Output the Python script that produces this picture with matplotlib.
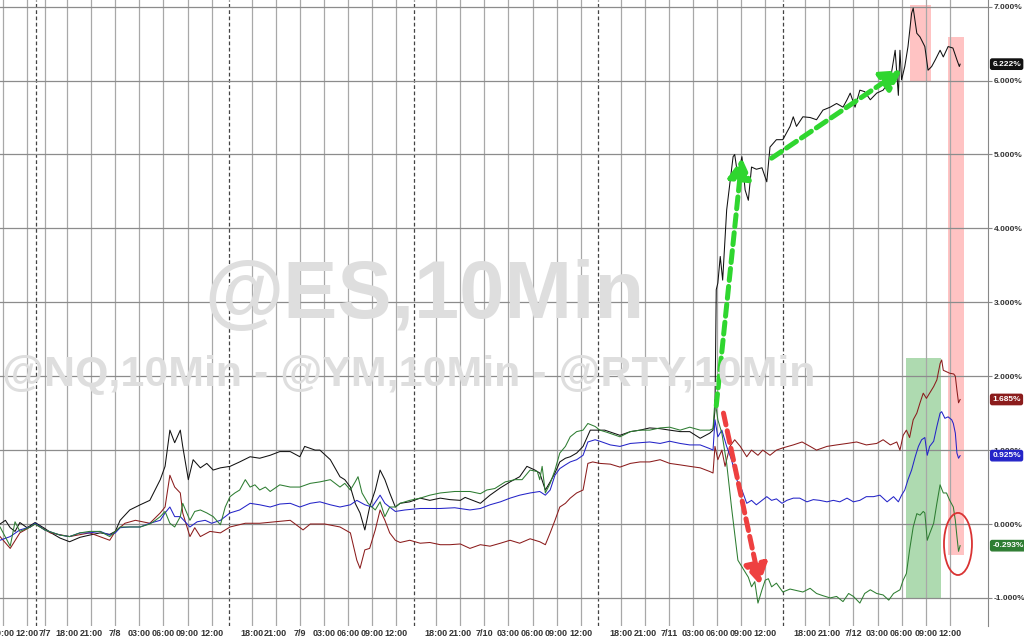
import matplotlib
matplotlib.use("Agg")
import matplotlib.pyplot as plt
from matplotlib.patches import Ellipse
from matplotlib.transforms import blended_transform_factory

plt.rcParams['font.family'] = ['Liberation Sans', 'DejaVu Sans']

# x = trading hours since the first 09:00 tick (session break 17:00-18:00 removed)
tick_pos = [0, 3, 5.23, 8, 11, 14, 17, 20, 23, 26, 31, 34, 37, 40, 43, 46, 49,
            54, 57, 60, 63, 66, 69, 72, 77, 80, 83, 86, 89, 92, 95,
            100, 103, 106, 109, 112, 115, 118]
tick_lbl = ['09:00', '12:00', '7/7', '18:00', '21:00', '7/8', '03:00', '06:00', '09:00', '12:00',
            '18:00', '21:00', '7/9', '03:00', '06:00', '09:00', '12:00',
            '18:00', '21:00', '7/10', '03:00', '06:00', '09:00', '12:00',
            '18:00', '21:00', '7/11', '03:00', '06:00', '09:00', '12:00',
            '18:00', '21:00', '7/12', '03:00', '06:00', '09:00', '12:00']
session_breaks = [4.1, 28.2, 51.2, 74.2, 97.2]

# black line (% change)
black_t = [-0.37, 0.3, 0.9, 1.5, 2.1, 3.0, 4.0, 5.2, 6.0, 7.1, 8.3, 9.6, 10.8, 12.1, 13.3, 14.0,
           14.6, 15.8, 17.1, 18.3, 19.6, 20.2, 20.8, 21.4, 22.1, 22.4, 23.1, 23.7, 24.6, 25.4,
           26.2, 27.1, 28.3, 29.5, 30.8, 32.0, 33.3, 34.5, 35.8, 37.0, 37.6, 38.9, 39.5, 40.8,
           42.0, 42.6, 43.3, 43.9, 44.5, 45.1, 45.7, 46.4, 47.0, 47.6, 48.2, 48.9, 49.5, 50.7,
           52.0, 53.2, 54.5, 55.7, 57.0, 57.6, 59.5, 60.7, 62.0, 63.2, 64.4, 65.3, 66.3, 66.9,
           67.6, 68.2, 68.8, 69.4, 70.1, 70.7, 71.5, 72.3, 73.2, 74.0, 75.0, 76.9, 78.2, 79.4,
           80.6, 81.9, 83.1, 84.4, 85.6, 86.9, 88.1, 88.5, 88.74, 88.9, 89.1, 89.4, 89.7, 90.2,
           90.6, 91.0, 91.2, 91.6, 92.1, 92.5, 92.9, 93.3, 93.9, 94.6, 95.2, 95.6, 96.4, 97.2,
           98.1, 98.5, 98.9, 99.7, 100.6, 101.4, 102.2, 103.1, 103.9, 104.7, 105.2, 105.6, 106.2,
           106.8, 107.4, 108.1, 108.9, 109.7, 110.6, 111.2, 111.4, 111.6, 111.8, 112.0, 112.4,
           112.8, 113.25, 113.45, 113.9, 114.3, 114.9, 115.3, 115.75, 116.2, 116.8, 117.2, 117.8,
           118.4, 118.9, 119.2, 119.3]
black_v = [0.0, 0.05, -0.05, -0.1, 0.02, -0.05, 0.02, -0.06, -0.12, -0.19, -0.24, -0.18, -0.15,
           -0.12, -0.14, -0.1, 0.05, 0.19, 0.26, 0.32, 0.6, 0.78, 1.27, 1.1, 1.27, 1.05, 0.6, 0.87,
           0.76, 0.82, 0.73, 0.76, 0.78, 0.84, 0.91, 0.89, 0.93, 0.98, 0.98, 0.91, 1.05, 1.0, 1.0,
           0.87, 0.64, 0.6, 0.5, 0.28, 0.15, -0.08, 0.23, 0.46, 0.73, 0.6, 0.42, 0.23, 0.28, 0.3,
           0.35, 0.32, 0.35, 0.33, 0.32, 0.36, 0.28, 0.39, 0.49, 0.57, 0.64, 0.78, 0.73, 0.69,
           0.46, 0.57, 0.69, 0.84, 0.89, 0.91, 0.96, 1.05, 1.27, 1.27, 1.27, 1.2, 1.25, 1.27,
           1.3, 1.29, 1.27, 1.25, 1.25, 1.16, 1.23, 1.27, 1.54, 3.17, 3.26, 3.62, 3.3, 4.25,
           4.61, 4.97, 5.0, 4.7, 4.97, 4.52, 4.38, 4.83, 4.8, 4.82, 4.63, 5.1, 5.2, 5.2,
           5.38, 5.51, 5.38, 5.51, 5.5, 5.47, 5.6, 5.64, 5.69, 5.64, 5.74, 5.83, 5.64,
           5.87, 5.85, 5.74, 5.83, 5.87, 6.01, 6.41, 6.1, 5.8, 6.41, 6.01, 6.19,
           6.46, 6.91, 6.98, 6.64, 6.59, 6.46, 6.14, 6.19, 6.28, 6.41, 6.32, 6.46,
           6.44, 6.28, 6.19, 6.222]

# dark red line
red_t = [-0.37, 0.9, 2.1, 3.4, 4.0, 5.9, 8.3, 10.8, 13.3, 14.0, 15.2, 16.5, 18.3, 19.6, 20.2,
         20.8, 21.4, 22.1, 22.4, 23.3, 23.9, 24.6, 25.8, 27.1, 28.3, 30.2, 32.0, 33.9, 35.8,
         37.4, 38.3, 40.1, 42.0, 43.3, 44.1, 44.5, 45.1, 45.7, 46.4, 47.0, 47.6, 48.2, 48.9,
         49.5, 50.7, 52.0, 53.2, 54.5, 55.7, 57.0, 58.2, 59.5, 60.7, 62.0, 63.2, 64.4, 65.7,
         66.9, 67.6, 68.2, 68.8, 69.4, 70.1, 70.7, 71.5, 72.3, 72.9, 73.5, 74.4, 75.7, 76.9,
         78.2, 79.4, 80.6, 81.9, 83.1, 84.4, 85.6, 86.9, 88.1, 88.5, 88.74, 89.1, 89.6, 90.0,
         90.6, 91.2, 91.9, 92.7, 93.3, 94.1, 94.7, 95.6, 96.4, 97.2, 98.5, 99.6, 100.6, 101.4,
         102.7, 103.9, 105.2, 106.4, 107.6, 108.9, 109.7, 110.6, 111.4, 111.8, 112.2, 112.6,
         113.0, 113.45, 113.9, 114.3, 114.7, 115.1, 115.5, 116.0, 116.4, 116.8, 117.0, 117.2,
         117.6, 118.0, 118.5, 118.7, 118.9, 119.1, 119.3]
red_v = [-0.17, -0.33, -0.12, -0.04, 0.0, -0.12, -0.17, -0.12, -0.22, -0.1, 0.01, 0.05, 0.01,
         0.15, 0.23, 0.66, 0.5, 0.42, 0.15, -0.17, -0.05, -0.17, -0.1, -0.12, -0.04, 0.01, 0.01,
         0.03, 0.05, -0.08, 0.0, 0.0, -0.04, -0.12, -0.49, -0.6, -0.35, -0.33, -0.08, 0.19, 0.05,
         -0.12, -0.22, -0.25, -0.22, -0.26, -0.25, -0.28, -0.28, -0.27, -0.33, -0.28, -0.3,
         -0.26, -0.22, -0.26, -0.2, -0.24, -0.28, -0.12, 0.05, 0.23, 0.28, 0.35, 0.42, 0.46,
         0.82, 0.84, 0.82, 0.81, 0.77, 0.82, 0.84, 0.84, 0.87, 0.82, 0.8, 0.78, 0.76, 0.71,
         0.69, 1.05, 0.87, 1.0, 0.78, 1.05, 1.14, 1.05, 0.91, 1.0, 0.93, 1.0, 0.93, 1.0, 1.03,
         1.07, 1.11, 1.05, 1.0, 1.05, 1.07, 1.09, 1.11, 1.07, 1.09, 1.14, 1.07, 1.11, 1.0, 1.2,
         1.27, 1.17, 1.41, 1.5, 1.64, 1.77, 1.7, 1.77, 1.86, 1.95, 2.17, 2.22, 2.08, 2.06, 2.04,
         2.03, 2.0, 1.81, 1.64, 1.685]

# blue line
blue_t = [-0.37, 0.9, 2.1, 3.4, 4.0, 5.2, 7.1, 8.3, 9.6, 10.8, 12.1, 13.3, 14.0, 14.6, 15.8,
          17.1, 18.3, 19.6, 20.2, 20.8, 21.4, 22.1, 23.3, 24.2, 25.2, 26.0, 27.1, 28.3, 29.5,
          30.8, 32.0, 33.3, 34.5, 35.8, 37.0, 38.3, 39.5, 40.8, 42.0, 43.3, 44.1, 45.1, 46.0,
          47.0, 47.6, 48.2, 48.9, 50.1, 52.0, 54.5, 56.3, 58.2, 59.5, 60.7, 62.0, 63.2, 64.4,
          65.7, 66.9, 67.6, 68.2, 68.8, 69.4, 70.1, 70.7, 71.5, 72.3, 72.9, 73.8, 74.4, 75.7,
          76.9, 78.2, 79.4, 80.6, 81.9, 83.1, 84.4, 85.6, 86.9, 88.1, 88.5, 88.74, 89.1, 89.6,
          90.2, 90.8, 91.45, 92.1, 92.7, 93.3, 93.9, 94.6, 95.2, 95.8, 96.4, 97.1, 97.7, 98.5,
          99.3, 100.2, 101.0, 101.8, 102.7, 103.5, 104.3, 105.2, 106.0, 106.8, 107.6, 108.5,
          109.3, 110.2, 111.0, 111.6, 112.0, 112.4, 112.8, 113.25, 113.7, 114.1, 114.5, 114.9,
          115.2, 115.5, 116.0, 116.4, 116.8, 117.0, 117.4, 117.8, 118.25, 118.45, 118.7, 118.9,
          119.1, 119.3]
blue_v = [-0.22, -0.17, -0.08, -0.04, 0.01, -0.08, -0.15, -0.17, -0.12, -0.12, -0.1, -0.15,
          -0.12, -0.05, -0.04, -0.04, 0.01, 0.05, 0.15, 0.23, 0.1, 0.1, -0.04, 0.03, 0.05, 0.01,
          0.05, 0.15, 0.19, 0.28, 0.26, 0.23, 0.27, 0.28, 0.23, 0.28, 0.3, 0.26, 0.23, 0.26,
          0.32, 0.26, 0.23, 0.39, 0.28, 0.23, 0.17, 0.19, 0.21, 0.21, 0.22, 0.19, 0.21, 0.26,
          0.3, 0.35, 0.39, 0.42, 0.44, 0.39, 0.46, 0.66, 0.75, 0.8, 0.84, 0.87, 0.93, 1.11,
          1.14, 1.12, 1.07, 1.05, 1.09, 1.1, 1.11, 1.09, 1.12, 1.09, 1.07, 1.07, 1.02, 1.0,
          1.41, 1.18, 1.27, 1.05, 0.87, 0.6, 0.46, 0.28, 0.32, 0.26, 0.32, 0.37, 0.32, 0.34,
          0.28, 0.32, 0.35, 0.35, 0.3, 0.33, 0.32, 0.3, 0.32, 0.3, 0.35, 0.3, 0.32, 0.37, 0.37,
          0.39, 0.3, 0.37, 0.3, 0.39, 0.46, 0.6, 0.73, 0.91, 1.05, 1.14, 1.17, 0.93, 1.05,
          1.12, 1.32, 1.5, 1.52, 1.43, 1.45, 1.41, 1.36, 1.23, 0.96, 0.89, 0.925]

# green line
green_t = [-0.37, 0.9, 1.5, 2.1, 3.4, 4.0, 5.2, 7.1, 8.3, 9.6, 10.8, 12.1, 13.3, 14.0, 14.6,
           15.8, 17.1, 18.3, 19.0, 19.6, 20.2, 20.8, 21.4, 22.1, 22.4, 23.3, 23.9, 24.6, 25.4,
           26.2, 27.1, 27.7, 28.3, 28.9, 29.5, 30.2, 30.8, 31.4, 32.0, 32.7, 33.3, 34.5, 35.8,
           37.0, 38.3, 39.5, 40.8, 42.0, 42.6, 43.3, 43.9, 44.25, 44.75, 45.5, 46.4, 47.0, 47.6,
           48.2, 48.9, 49.5, 50.7, 52.0, 53.2, 54.5, 56.3, 58.2, 59.5, 60.3, 61.3, 62.6, 63.8,
           64.7, 65.7, 66.6, 66.9, 67.2, 67.6, 68.2, 68.8, 69.4, 70.1, 70.7, 71.5, 72.3, 72.9,
           73.8, 74.4, 75.3, 76.9, 78.2, 79.4, 80.6, 81.9, 83.1, 84.4, 85.6, 86.9, 88.1, 88.5,
           88.74, 89.1, 89.6, 90.2, 90.8, 91.2, 91.6, 92.1, 92.5, 92.9, 93.3, 93.7, 94.1, 94.6,
           95.0, 95.4, 95.8, 96.4, 97.2, 98.1, 98.9, 99.7, 100.6, 101.4, 102.2, 103.1, 103.9,
           104.7, 105.4, 106.0, 106.8, 107.4, 108.1, 108.9, 109.7, 110.4, 111.0, 111.8, 112.2,
           112.6, 113.0, 113.45, 113.9, 114.3, 114.7, 114.9, 115.2, 115.5, 116.0, 116.4, 116.8,
           117.2, 117.6, 118.0, 118.45, 118.7, 118.9, 119.1, 119.3]
green_v = [-0.04, -0.3, 0.03, -0.1, -0.04, 0.0, -0.08, -0.15, -0.17, -0.12, -0.1, -0.1, -0.17,
           -0.1, -0.04, -0.04, -0.04, 0.0, 0.05, 0.1, 0.17, 0.01, -0.04, 0.1, 0.28, 0.05, 0.17,
           0.19, 0.15, 0.1, -0.01, 0.23, 0.37, 0.42, 0.46, 0.6, 0.5, 0.53, 0.46, 0.5, 0.44, 0.53,
           0.5, 0.5, 0.55, 0.57, 0.6, 0.5, 0.55, 0.46, 0.57, 0.64, 0.42, 0.28, 0.19, 0.3, 0.1,
           0.23, 0.23, 0.28, 0.32, 0.35, 0.39, 0.42, 0.44, 0.44, 0.41, 0.46, 0.48, 0.57, 0.6,
           0.6, 0.73, 0.71, 0.6, 0.78, 0.42, 0.55, 0.73, 0.96, 1.05, 1.18, 1.25, 1.27, 1.36,
           1.32, 1.27, 1.24, 1.18, 1.25, 1.27, 1.27, 1.3, 1.31, 1.27, 1.31, 1.27, 1.27, 1.29,
           1.68, 1.41, 1.23, 0.82, 0.23, -0.13, -0.49, -0.58, -0.65, -0.72, -0.85, -0.78, -1.07,
           -0.89, -0.76, -0.74, -0.85, -0.8, -0.92, -0.88, -0.9, -0.92, -0.87, -0.94, -0.97,
           -1.0, -0.98, -1.05, -0.94, -0.98, -1.07, -0.94, -0.89, -0.94, -0.96, -1.03, -0.94,
           -0.89, -0.76, -0.67, -0.35, -0.04, 0.14, 0.12, 0.17, 0.15, -0.22, -0.13, 0.01, 0.28,
           0.53, 0.42, 0.42, 0.32, 0.23, 0.05, -0.17, -0.37, -0.293]

last_vals = [6.222, 1.685, 0.925, -0.293]
tag_colors = ['#111111', '#8b1c1c', '#2424c8', '#2e7d32']

fig = plt.figure(figsize=(10.24, 6.41), dpi=100)
ax = fig.add_axes([0, 15 / 641, 988.3 / 1024, 626 / 641])

# watermarks
fig.text(204 / 1024, 1 - 318 / 641, '@ES,10Min', fontsize=58.5, fontweight='bold',
         color='#dedede', ha='left', va='baseline', zorder=0)
fig.text(2 / 1024, 1 - 386 / 641, '@NQ,10Min - @YM,10Min - @RTY,10Min', fontsize=31,
         fontweight='bold', color='#dedede', ha='left', va='baseline', zorder=0)
ax.patch.set_alpha(0)

# highlight spans
ax.fill_between([112.55, 116.9], -1.0, 2.25, color='#4caf50', alpha=0.45, lw=0, zorder=1)
ax.fill_between([113.05, 115.7], 6.0, 7.02, color='#ff6b6b', alpha=0.4, lw=0, zorder=1)
ax.fill_between([117.83, 119.8], -0.42, 6.59, color='#ff6b6b', alpha=0.4, lw=0, zorder=1)

ax.plot(black_t, black_v, color='#111111', lw=0.75, zorder=3)
ax.plot(red_t, red_v, color='#8b1c1c', lw=0.75, zorder=3)
ax.plot(blue_t, blue_v, color='#2424c8', lw=0.75, zorder=3)
ax.plot(green_t, green_v, color='#2e7d32', lw=0.75, zorder=3)

# dashed arrows
def dashed_arrow(x0, y0, x1, y1, color):
    ax.annotate('', xy=(x1, y1), xytext=(x0, y0), zorder=4,
                arrowprops=dict(arrowstyle='-|>,head_length=1.2,head_width=0.7',
                                mutation_scale=10, lw=3.6, ls=(0, (2.4, 1.2)),
                                color=color, shrinkA=0, shrinkB=0))

dashed_arrow(88.9, 1.6, 92.1, 4.95, '#2fd62f')
dashed_arrow(95.8, 4.95, 112.0, 6.14, '#2fd62f')
dashed_arrow(89.8, 1.5, 94.35, -0.82, '#ee4040')

ax.add_patch(Ellipse((119.03, -0.27), 3.49, 0.84, fill=False, ec='#d93333', lw=1.3, zorder=4))

# axes styling
ax.set_xlim(-0.374, 122.81)
ax.set_ylim(-1.38, 7.09)
ax.set_xticks(tick_pos)
ax.set_xticklabels(tick_lbl)
ax.set_yticks(range(-1, 8))
ax.yaxis.tick_right()
ax.yaxis.set_major_formatter(plt.FuncFormatter(lambda v, p: f'{v:.3f}%'))
ax.grid(axis='x', color='#a8a8a8', lw=0.9, zorder=2)
ax.grid(axis='y', color='#8c8c8c', lw=0.9, zorder=2)
ax.set_axisbelow(False)
for b in session_breaks:
    ax.axvline(b, color='#444444', lw=0.9, ls=(0, (3, 2)), zorder=2)
for s in ['left', 'top', 'bottom']:
    ax.spines[s].set_visible(False)
ax.spines['right'].set_color('#888888')
ax.tick_params(axis='x', length=0, pad=2, labelsize=6.5, labelcolor='#333333')
ax.tick_params(axis='y', length=3, pad=1, labelsize=6, labelcolor='#333333', color='#888888')
for lab in ax.get_xticklabels() + ax.get_yticklabels():
    lab.set_fontweight('bold')

# last value tags
tr = blended_transform_factory(ax.transAxes, ax.transData)
for v, c in zip(last_vals, tag_colors):
    ax.text(1.004, v, f'{v:.3f}%', transform=tr, ha='left', va='center', fontsize=6,
            fontweight='bold', color='white', clip_on=False, zorder=6,
            bbox=dict(boxstyle='round,pad=0.2', fc=c, ec=c))

fig.savefig('out.png', dpi=100)
